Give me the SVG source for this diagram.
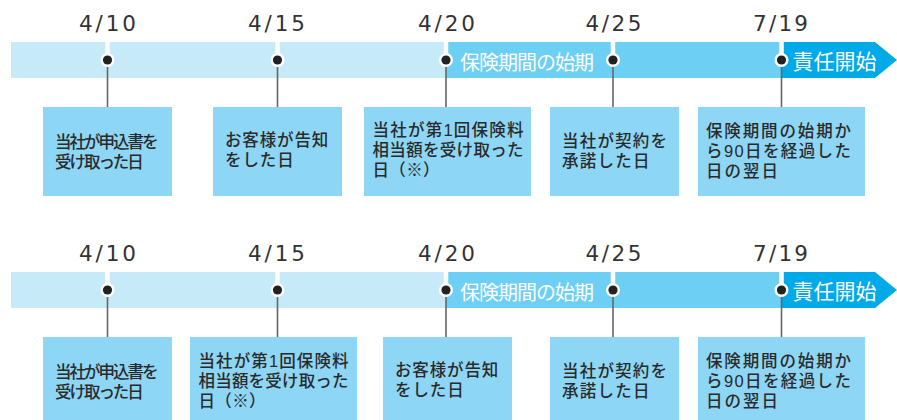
<svg xmlns="http://www.w3.org/2000/svg" width="897" height="420" viewBox="0 0 897 420">
  <style>
    .date { font-family: "DejaVu Sans", "Liberation Sans", sans-serif; font-size: 21.5px; fill: #333; text-anchor: middle; }
    .lbl { font-family: "Liberation Sans", "Noto Sans CJK JP", sans-serif; font-size: 16.5px; font-weight: 500; fill: #2a2a2a; }
    .bar-lbl { font-family: "Liberation Sans", "Noto Sans CJK JP", sans-serif; fill: #fff; }
    .box { fill: #8ED6F6; }
    .light { fill: #C7EAF9; }
    .mid { fill: #6ECFF4; }
    .dark { fill: #00AAE9; }
    .gap { stroke: #fff; stroke-width: 4.5; }
    .conn { stroke: #666; stroke-width: 1.6; fill: none; }
  </style>
  <defs>
    <g id="dot">
      <circle r="7" fill="#fff"/>
      <circle r="4.6" fill="#222"/>
    </g>
  </defs>

  <!-- ===== Top timeline ===== -->
  <g id="top-bar">
    <rect class="light" x="11" y="42" width="436" height="36"/>
    <rect class="mid" x="446" y="42" width="336" height="36"/>
    <polygon class="dark" points="781.5,42 875,42 897,60 875,78 781.5,78"/>
    <text class="bar-lbl" x="460" y="69.5" font-size="20" letter-spacing="-1">保険期間の始期</text>
    <text class="bar-lbl" x="792.5" y="69" font-size="21">責任開始</text>
  </g>
  <g id="top-dates">
    <text class="date" x="107.5" y="31" textLength="57" lengthAdjust="spacing">4/10</text>
    <text class="date" x="276.5" y="31" textLength="57" lengthAdjust="spacing">4/15</text>
    <text class="date" x="446.5" y="31" textLength="57" lengthAdjust="spacing">4/20</text>
    <text class="date" x="613.5" y="31" textLength="56" lengthAdjust="spacing">4/25</text>
    <text class="date" x="780.5" y="31" textLength="55" lengthAdjust="spacing">7/19</text>
  </g>
  <g id="top-connectors">
    <line class="gap" x1="107.5" y1="42" x2="107.5" y2="60"/>
    <line class="gap" x1="277.5" y1="42" x2="277.5" y2="60"/>
    <line class="gap" x1="446" y1="42" x2="446" y2="60"/>
    <line class="gap" x1="613" y1="42" x2="613" y2="60"/>
    <line class="gap" x1="781.5" y1="42" x2="781.5" y2="60"/>
    <line class="conn" x1="107.5" y1="60" x2="107.5" y2="107"/>
    <line class="conn" x1="277.5" y1="60" x2="277.5" y2="107"/>
    <line class="conn" x1="446" y1="60" x2="446" y2="107"/>
    <line class="conn" x1="613" y1="60" x2="613" y2="107"/>
    <line class="conn" x1="781.5" y1="60" x2="781.5" y2="107"/>
    <use href="#dot" x="107.5" y="60"/>
    <use href="#dot" x="277.5" y="60"/>
    <use href="#dot" x="446" y="60"/>
    <use href="#dot" x="613" y="60"/>
    <use href="#dot" x="781.5" y="60"/>
  </g>
  <g id="top-n1">
    <rect class="box" x="43" y="107" width="129" height="89"/>
    <text class="lbl" x="55" y="147.5" textLength="103.6" lengthAdjust="spacing">当社が申込書を</text>
    <text class="lbl" x="55" y="167.5" textLength="88.8" lengthAdjust="spacing">受け取った日</text>
  </g>
  <g id="top-n2">
    <rect class="box" x="213" y="107" width="129" height="89"/>
    <text class="lbl" x="225" y="146" textLength="103.3" lengthAdjust="spacing">お客様が告知</text>
    <text class="lbl" x="225" y="166" textLength="68.8" lengthAdjust="spacing">をした日</text>
  </g>
  <g id="top-n3">
    <rect class="box" x="364" y="107" width="167" height="89"/>
    <text class="lbl" x="372.5" y="136" textLength="151" lengthAdjust="spacing">当社が第1回保険料</text>
    <text class="lbl" x="372.5" y="156" textLength="151" lengthAdjust="spacing">相当額を受け取った</text>
    <text class="lbl" x="372.5" y="176" textLength="67" lengthAdjust="spacing">日（※）</text>
  </g>
  <g id="top-n4">
    <rect class="box" x="550" y="107" width="129" height="89"/>
    <text class="lbl" x="562" y="147" textLength="105" lengthAdjust="spacing">当社が契約を</text>
    <text class="lbl" x="562" y="167" textLength="87.5" lengthAdjust="spacing">承諾した日</text>
  </g>
  <g id="top-n5">
    <rect class="box" x="698" y="107" width="167" height="89"/>
    <text class="lbl" x="706" y="136.5" textLength="145" lengthAdjust="spacing">保険期間の始期か</text>
    <text class="lbl" x="706" y="156.5" textLength="145" lengthAdjust="spacing">ら90日を経過した</text>
    <text class="lbl" x="706" y="176.5" textLength="72" lengthAdjust="spacing">日の翌日</text>
  </g>

  <!-- ===== Bottom timeline ===== -->
  <g id="bottom-bar">
    <rect class="light" x="11" y="272" width="436" height="36"/>
    <rect class="mid" x="446" y="272" width="336" height="36"/>
    <polygon class="dark" points="781.5,272 875,272 897,290 875,308 781.5,308"/>
    <text class="bar-lbl" x="460" y="299.5" font-size="20" letter-spacing="-1">保険期間の始期</text>
    <text class="bar-lbl" x="792.5" y="299" font-size="21">責任開始</text>
  </g>
  <g id="bottom-dates">
    <text class="date" x="107.5" y="261" textLength="57" lengthAdjust="spacing">4/10</text>
    <text class="date" x="276.5" y="261" textLength="57" lengthAdjust="spacing">4/15</text>
    <text class="date" x="446.5" y="261" textLength="57" lengthAdjust="spacing">4/20</text>
    <text class="date" x="613.5" y="261" textLength="56" lengthAdjust="spacing">4/25</text>
    <text class="date" x="780.5" y="261" textLength="55" lengthAdjust="spacing">7/19</text>
  </g>
  <g id="bottom-connectors">
    <line class="gap" x1="107.5" y1="272" x2="107.5" y2="290"/>
    <line class="gap" x1="277.5" y1="272" x2="277.5" y2="290"/>
    <line class="gap" x1="446" y1="272" x2="446" y2="290"/>
    <line class="gap" x1="613" y1="272" x2="613" y2="290"/>
    <line class="gap" x1="781.5" y1="272" x2="781.5" y2="290"/>
    <line class="conn" x1="107.5" y1="290" x2="107.5" y2="337"/>
    <line class="conn" x1="277.5" y1="290" x2="277.5" y2="337"/>
    <line class="conn" x1="446" y1="290" x2="446" y2="337"/>
    <line class="conn" x1="613" y1="290" x2="613" y2="337"/>
    <line class="conn" x1="781.5" y1="290" x2="781.5" y2="337"/>
    <use href="#dot" x="107.5" y="290"/>
    <use href="#dot" x="277.5" y="290"/>
    <use href="#dot" x="446" y="290"/>
    <use href="#dot" x="613" y="290"/>
    <use href="#dot" x="781.5" y="290"/>
  </g>
  <g id="bottom-n1">
    <rect class="box" x="43" y="337" width="129" height="89"/>
    <text class="lbl" x="55" y="377.5" textLength="103.6" lengthAdjust="spacing">当社が申込書を</text>
    <text class="lbl" x="55" y="397.5" textLength="88.8" lengthAdjust="spacing">受け取った日</text>
  </g>
  <g id="bottom-n2">
    <rect class="box" x="190" y="337" width="167" height="89"/>
    <text class="lbl" x="198.5" y="367" textLength="150" lengthAdjust="spacing">当社が第1回保険料</text>
    <text class="lbl" x="198.5" y="387" textLength="150" lengthAdjust="spacing">相当額を受け取った</text>
    <text class="lbl" x="198.5" y="407" textLength="67" lengthAdjust="spacing">日（※）</text>
  </g>
  <g id="bottom-n3">
    <rect class="box" x="383" y="337" width="129" height="89"/>
    <text class="lbl" x="395" y="376" textLength="103.3" lengthAdjust="spacing">お客様が告知</text>
    <text class="lbl" x="395" y="396" textLength="68.8" lengthAdjust="spacing">をした日</text>
  </g>
  <g id="bottom-n4">
    <rect class="box" x="550" y="337" width="129" height="89"/>
    <text class="lbl" x="562" y="377" textLength="105" lengthAdjust="spacing">当社が契約を</text>
    <text class="lbl" x="562" y="397" textLength="87.5" lengthAdjust="spacing">承諾した日</text>
  </g>
  <g id="bottom-n5">
    <rect class="box" x="698" y="337" width="167" height="89"/>
    <text class="lbl" x="706" y="366.5" textLength="145" lengthAdjust="spacing">保険期間の始期か</text>
    <text class="lbl" x="706" y="386.5" textLength="145" lengthAdjust="spacing">ら90日を経過した</text>
    <text class="lbl" x="706" y="406.5" textLength="72" lengthAdjust="spacing">日の翌日</text>
  </g>
</svg>
